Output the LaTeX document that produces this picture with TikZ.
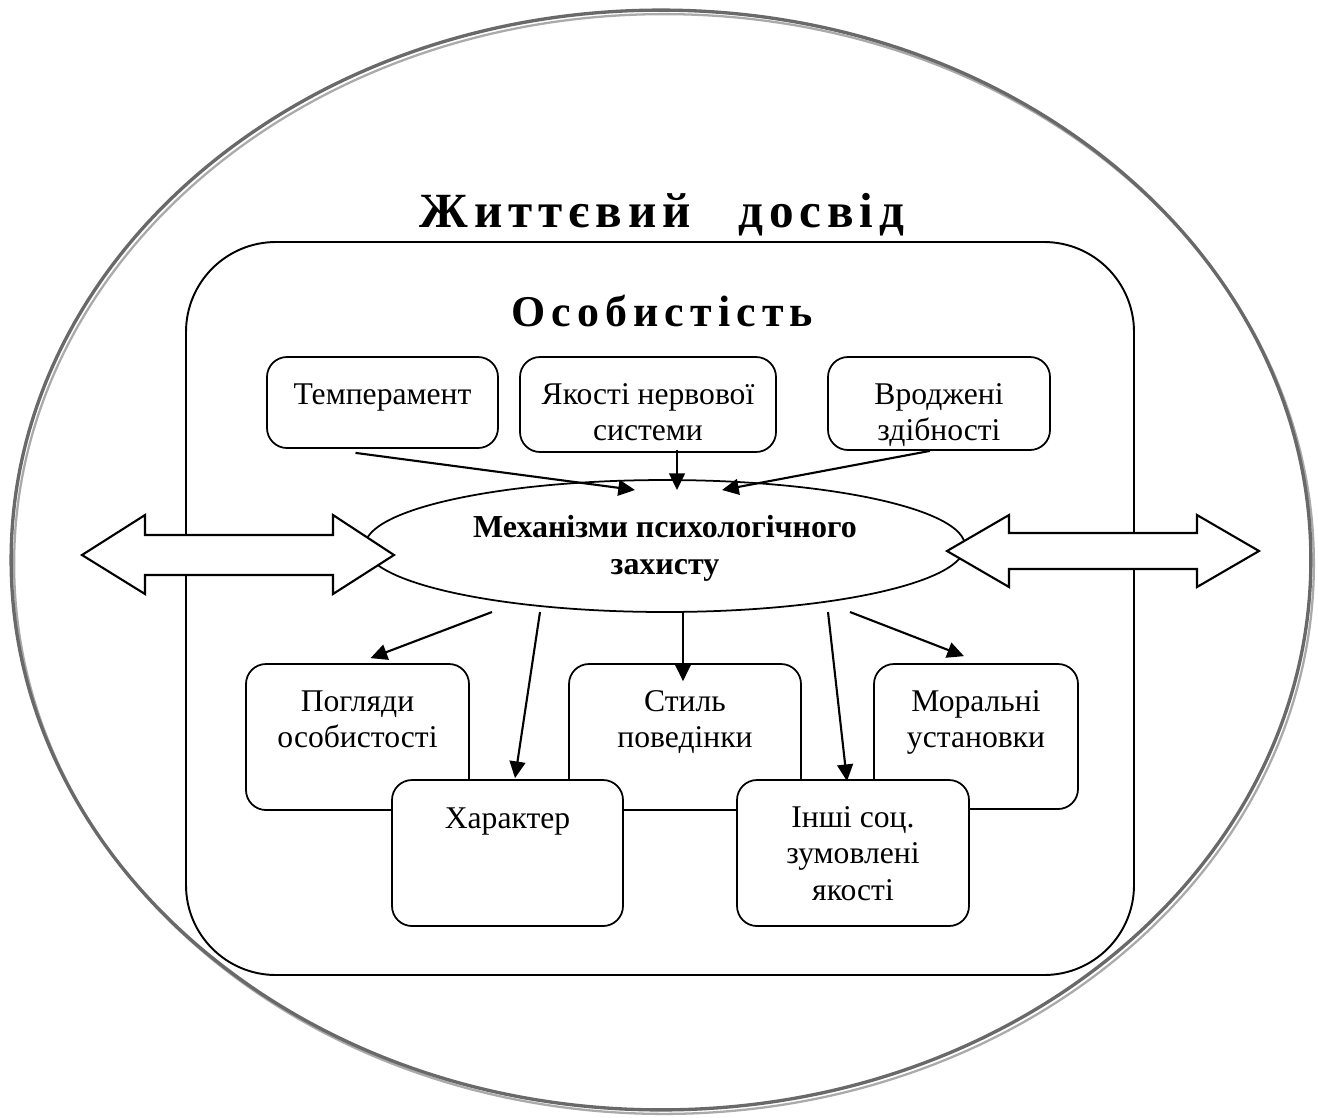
\documentclass[tikz,border=0pt]{standalone}
\usepackage{fontspec}
\setmainfont{Liberation Serif}
\newfontfamily\trackedfont[LetterSpace=12]{Liberation Serif}
\newfontfamily\widefont[LetterSpace=14]{Liberation Serif}
\usetikzlibrary{arrows.meta,fit,calc,shapes.geometric}
% centred stack of lines whose baseline is that of the first line
\newcommand\txtlines[1]{\begin{tabular}[t]{@{}c@{}}#1\end{tabular}}
\definecolor{rimdark}{RGB}{105,105,105}
\definecolor{rimlight}{RGB}{170,170,170}
\begin{document}
\begin{tikzpicture}[x=0.02cm,y=-0.02cm,
  box/.style={draw, line width=1pt, rounded corners=0.4cm, fill=white, inner sep=0pt},
  lbl/.style={inner sep=0pt, anchor=base, font=\fontsize{18}{21}\selectfont},
  link/.style={line width=1.2pt, -{Triangle[length=9.5pt,width=9pt]}},
  fat/.style={draw, line width=1.2pt, fill=white, line join=miter}
]
\useasboundingbox (0,0) rectangle (1318,1117);

% outer ellipse: life experience, with a soft offset rim
\coordinate (life) at (661,560);
\draw[rimlight, line width=1.3pt] ($(life)+(3,4)$) ellipse [x radius=13.0cm, y radius=11.0cm];
\draw[rimdark, line width=1.9pt] (life) ellipse [x radius=13.0cm, y radius=11.0cm];
\node[anchor=base, inner sep=0pt, font=\trackedfont\bfseries\fontsize{28}{31}\selectfont]
  (life-title) at (662,227) {Життєвий\hspace{0.6em} досвід};

% personality container
\node[fit={(186,242)(1134,975)}, draw, line width=1.1pt, rounded corners=1.8cm, inner sep=0pt] (pers) {};
\node[anchor=base, inner sep=0pt, font=\widefont\bfseries\fontsize{25}{28}\selectfont]
  (pers-title) at (662,326) {Особистість};

% inborn qualities
\node[box, fit={(267,357)(498,448)}] (temp) {};
\node[lbl] (temp-t) at (382.5,404) {Темперамент};
\node[box, fit={(520,357)(776,452)}] (nerv) {};
\node[lbl] (nerv-t) at (648,404) {\txtlines{Якості нервової\\системи}};
\node[box, fit={(828,357)(1050,450)}] (innate) {};
\node[lbl] (innate-t) at (939,404) {\txtlines{Вроджені\\здібності}};

% defence mechanisms
\node[ellipse, draw, line width=1pt, fill=white, minimum width=12cm, minimum height=2.64cm, inner sep=0pt] (mech) at (665,546) {};
\node[anchor=base, inner sep=0pt, font=\bfseries\fontsize{18.2}{21.5}\selectfont]
  (mech-t) at (665,537) {\txtlines{Механізми психологічного\\захисту}};

% socially shaped qualities, back row
\node[box, fit={(246,664)(469,810)}] (views) {};
\node[lbl] (views-t) at (357.5,711) {\txtlines{Погляди\\особистості}};
\node[box, fit={(569,664)(801,810)}] (style) {};
\node[lbl] (style-t) at (685,711) {\txtlines{Стиль\\поведінки}};
\node[box, fit={(874,664)(1078,809)}] (moral) {};
\node[lbl] (moral-t) at (976,711) {\txtlines{Моральні\\установки}};
% front row
\node[box, fit={(392,780)(623,926)}] (char) {};
\node[lbl] (char-t) at (507.5,828) {Характер};
\node[box, fit={(737,780)(969,926)}] (other) {};
\node[lbl] (other-t) at (853,827) {\txtlines{Інші соц.\\зумовлені\\якості}};

% influences into the mechanisms
\draw[link] ($(temp.south)+(-27,4)$) -- ($(mech.center)+(-30,-56)$);
\draw[link] ($(nerv.south)+(29,-3)$) -- ($(mech.center)+(12,-56)$);
\draw[link] ($(innate.south)+(-9,0)$) -- ($(mech.center)+(57,-56)$);

% mechanisms shaping the qualities
\draw[link] ($(mech.center)+(-173,66)$) -- ($(views.north)+(13,-5)$);
\draw[link] ($(mech.center)+(-125,66)$) -- ($(char.north)+(7.5,-1)$);
\draw[link] ($(mech.center)+(18,66)$) -- ($(style.north)+(-2,18)$);
\draw[link] ($(mech.center)+(163,66)$) -- ($(other.north)+(-6,2)$);
\draw[link] ($(mech.center)+(185,66)$) -- ($(moral.north)+(-12,-7)$);

% two-way exchange with life experience
\coordinate (left-tip) at (82,555);
\draw[fat] (left-tip) -- ++(63,-40) -- ++(0,20) -- ++(188,0) -- ++(0,-20) -- ++(61,40)
  -- ++(-61,39) -- ++(0,-19) -- ++(-188,0) -- ++(0,19) -- cycle;
\coordinate (right-tip) at (947,551);
\draw[fat] (right-tip) -- ++(62,-36) -- ++(0,18) -- ++(188,0) -- ++(0,-18) -- ++(62,36)
  -- ++(-62,36) -- ++(0,-18) -- ++(-188,0) -- ++(0,18) -- cycle;
\end{tikzpicture}
\end{document}
